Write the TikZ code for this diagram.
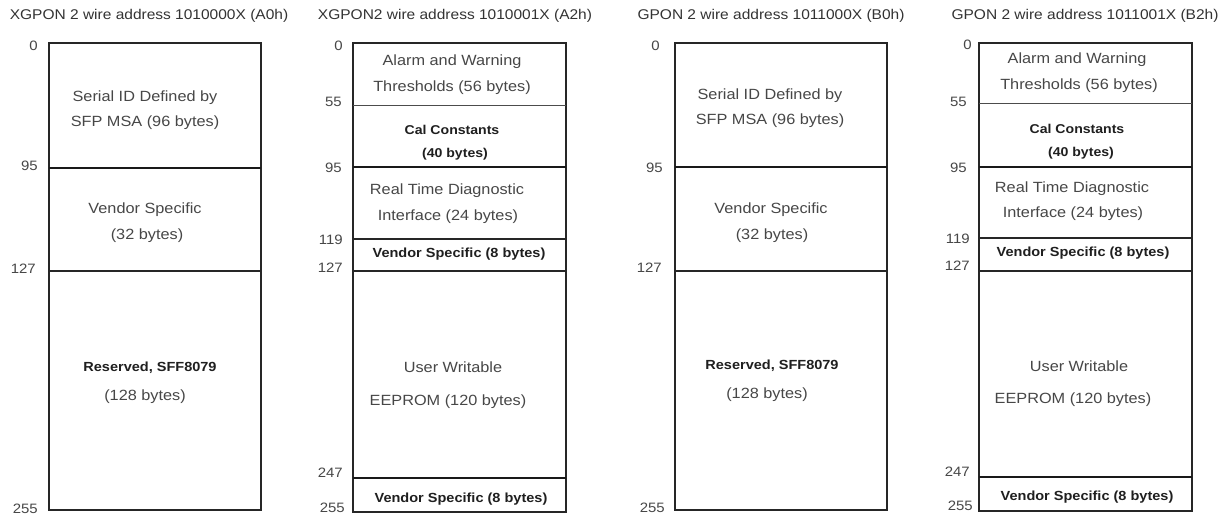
\documentclass[tikz,border=0pt]{standalone}
\usepackage{fontspec}
\setmainfont{Liberation Sans}[FakeStretch=1.1]
\begin{document}
\begin{tikzpicture}[x=1pt,y=-1pt,
 hdr/.style={font=\fontsize{14.1}{16}\selectfont, text=black!80, anchor=base, inner sep=0pt},
 txt/.style={font=\fontsize{14.8}{17}\selectfont, text=black!72, anchor=base, inner sep=0pt},
 btxt/.style={font=\bfseries\fontsize{13.2}{15}\selectfont, text=black!88, anchor=base, inner sep=0pt},
 stxt/.style={font=\bfseries\fontsize{12.8}{15}\selectfont, text=black!88, anchor=base, inner sep=0pt},
 num/.style={font=\fontsize{13.6}{15}\selectfont, text=black!72, anchor=base east, inner sep=0pt},
 frame/.style={draw=black!85, line width=1.6pt},
 thinsep/.style={draw=black!70, line width=0.8pt},
 thicksep/.style={draw=black!90, line width=2.2pt},
 midsep/.style={draw=black!85, line width=1.6pt}]
\useasboundingbox[fill=white] (0,0) rectangle (1227,516);

% headers
\node[hdr] (h1) at (149,20) {XGPON 2 wire address 1010000X (A0h)};
\node[hdr] (h2) at (455,20) {XGPON2 wire address 1010001X (A2h)};
\node[hdr] (h3) at (771,20) {GPON 2 wire address 1011000X (B0h)};
\node[hdr] (h4) at (1085,20) {GPON 2 wire address 1011001X (B2h)};

% ---------- column 1 (A0h)
\draw[frame] (49,43) rectangle (261,510);
\draw[thicksep] (49,168) -- (261,168);
\draw[midsep] (49,271) -- (261,271);
\node[txt] (c1a) at (145,102) {Serial ID Defined by};
\node[txt] (c1b) at (145,127) {SFP MSA (96 bytes)};
\node[txt] (c1c) at (145,213) {Vendor Specific};
\node[txt] (c1d) at (147,240) {(32 bytes)};
\node[btxt] (c1e) at (150,371) {Reserved, SFF8079};
\node[txt] (c1f) at (145,400) {(128 bytes)};
\node[num] (n1a) at (38,51) {0};
\node[num] (n1b) at (38,171) {95};
\node[num] (n1c) at (36,273) {127};
\node[num] (n1d) at (38,513) {255};

% ---------- column 2 (A2h)
\draw[frame] (353,43) rectangle (566,512);
\draw[thinsep] (353,105) -- (566,105);
\draw[thicksep] (353,167) -- (566,167);
\draw[midsep] (353,239) -- (566,239);
\draw[midsep] (353,271) -- (566,271);
\draw[thicksep] (353,478) -- (566,478);
\node[txt] (c2a) at (452,66) {Alarm and Warning};
\node[txt] (c2b) at (452,92) {Thresholds (56 bytes)};
\node[stxt] (c2c) at (452,135) {Cal Constants};
\node[stxt] (c2d) at (455,158) {(40 bytes)};
\node[txt] (c2e) at (447,195) {Real Time Diagnostic};
\node[txt] (c2f) at (448,220) {Interface (24 bytes)};
\node[btxt] (c2g) at (459,257) {Vendor Specific (8 bytes)};
\node[txt] (c2h) at (453,372) {User Writable};
\node[txt] (c2i) at (448,405) {EEPROM (120 bytes)};
\node[btxt] (c2j) at (461,502) {Vendor Specific (8 bytes)};
\node[num] (n2a) at (343,51) {0};
\node[num] (n2b) at (342,107) {55};
\node[num] (n2c) at (342,172) {95};
\node[num] (n2d) at (343,244) {119};
\node[num] (n2e) at (343,272) {127};
\node[num] (n2f) at (343,477) {247};
\node[num] (n2g) at (345,512) {255};

% ---------- column 3 (B0h)
\draw[frame] (675,43) rectangle (887,510);
\draw[thicksep] (675,167) -- (887,167);
\draw[midsep] (675,271) -- (887,271);
\node[txt] (c3a) at (770,100) {Serial ID Defined by};
\node[txt] (c3b) at (770,125) {SFP MSA (96 bytes)};
\node[txt] (c3c) at (771,213) {Vendor Specific};
\node[txt] (c3d) at (772,240) {(32 bytes)};
\node[btxt] (c3e) at (772,369) {Reserved, SFF8079};
\node[txt] (c3f) at (767,398) {(128 bytes)};
\node[num] (n3a) at (660,51) {0};
\node[num] (n3b) at (663,172) {95};
\node[num] (n3c) at (662,272) {127};
\node[num] (n3d) at (665,512) {255};

% ---------- column 4 (B2h)
\draw[frame] (979,43) rectangle (1192,511);
\draw[thinsep] (979,103) -- (1192,103);
\draw[thicksep] (979,167) -- (1192,167);
\draw[midsep] (979,238) -- (1192,238);
\draw[midsep] (979,271) -- (1192,271);
\draw[thicksep] (979,477) -- (1192,477);
\node[txt] (c4a) at (1077,64) {Alarm and Warning};
\node[txt] (c4b) at (1079,90) {Thresholds (56 bytes)};
\node[stxt] (c4c) at (1077,134) {Cal Constants};
\node[stxt] (c4d) at (1081,157) {(40 bytes)};
\node[txt] (c4e) at (1072,193) {Real Time Diagnostic};
\node[txt] (c4f) at (1073,218) {Interface (24 bytes)};
\node[btxt] (c4g) at (1083,256) {Vendor Specific (8 bytes)};
\node[txt] (c4h) at (1079,371) {User Writable};
\node[txt] (c4i) at (1073,403) {EEPROM (120 bytes)};
\node[btxt] (c4j) at (1087,500) {Vendor Specific (8 bytes)};
\node[num] (n4a) at (972,50) {0};
\node[num] (n4b) at (967,107) {55};
\node[num] (n4c) at (967,172) {95};
\node[num] (n4d) at (970,243) {119};
\node[num] (n4e) at (970,270) {127};
\node[num] (n4f) at (970,476) {247};
\node[num] (n4g) at (973,510) {255};
\end{tikzpicture}
\end{document}
